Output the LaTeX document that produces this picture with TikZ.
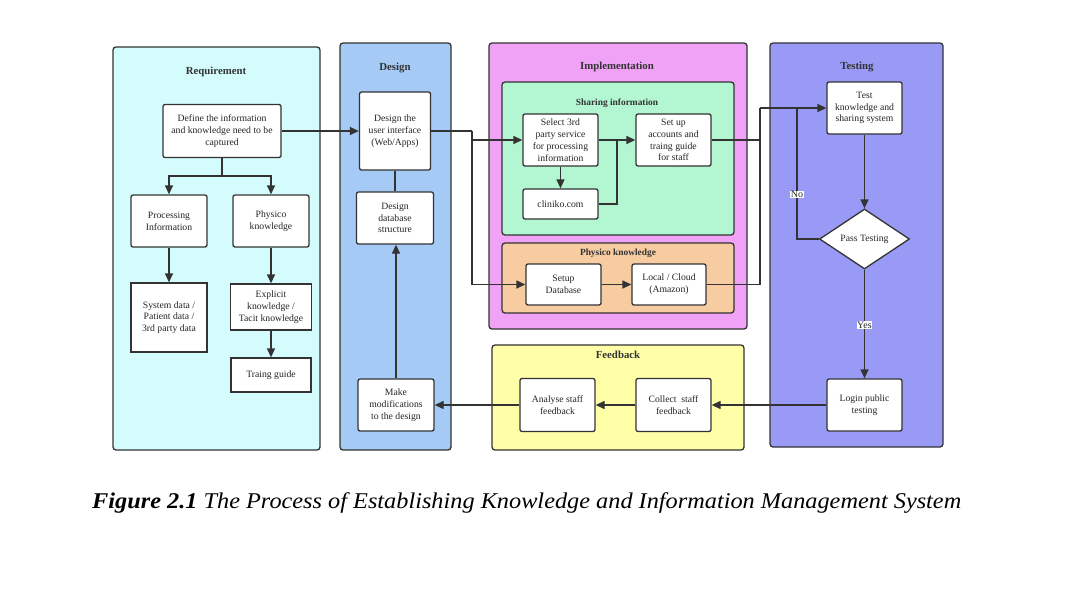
\documentclass[tikz,border=0pt]{standalone}
\usepackage{fontspec}
\setmainfont{Liberation Serif}
\usetikzlibrary{arrows.meta,shapes.geometric}
\definecolor{linec}{RGB}{51,51,51}
\definecolor{reqc}{RGB}{212,252,252}
\definecolor{desc}{RGB}{164,202,245}
\definecolor{impc}{RGB}{240,162,246}
\definecolor{shac}{RGB}{178,247,210}
\definecolor{phyc}{RGB}{246,204,160}
\definecolor{feec}{RGB}{255,255,168}
\definecolor{tesc}{RGB}{153,153,246}
\tikzset{
  lane/.style={draw=linec, line width=1.3pt, rounded corners=3pt},
  lanetitle/.style={font=\fontsize{10.8}{12}\selectfont\bfseries, text=linec},
  subtitle/.style={font=\fontsize{9.4}{11}\selectfont\bfseries, text=linec},
  box/.style={draw=linec, fill=white, line width=1.3pt, rounded corners=2pt, align=center,
    font=\fontsize{9.7}{11.8}\selectfont, inner sep=1pt, text=black!85},
  sqbox/.style={box, rounded corners=0pt},
  conn/.style={draw=linec, line width=1.3pt},
  arr/.style={conn, -{Triangle[length=9pt,width=8pt]}},
  lbl/.style={fill=white, inner sep=0.5pt, font=\fontsize{10}{11}\selectfont, text=black!85}
}
\begin{document}
\begin{tikzpicture}[x=1pt,y=-1pt]
\useasboundingbox (0,0) rectangle (1072,590);
% lanes
\draw[lane, fill=reqc] (113,47) rectangle (320,450);
\node[lanetitle] (treq) at (216,72) {Requirement};
\draw[lane, fill=desc] (340,43) rectangle (451,450);
\node[lanetitle] (tdes) at (395,68) {Design};
\draw[lane, fill=impc] (489,43) rectangle (747,329);
\node[lanetitle] (timp) at (617,67) {Implementation};
\draw[lane, fill=shac] (502,82) rectangle (734,235);
\node[subtitle] (tsha) at (617,103) {Sharing information};
\draw[lane, fill=phyc] (502,243) rectangle (734,313);
\node[subtitle] (tphy) at (618,253) {Physico knowledge};
\draw[lane, fill=feec] (492,345) rectangle (744,450);
\node[lanetitle] (tfee) at (618,355) {Feedback};
\draw[lane, fill=tesc] (770,43) rectangle (943,447);
\node[lanetitle] (ttes) at (857,67) {Testing};

% Requirement nodes
\node[box, minimum width=118pt, minimum height=53pt] (def) at (222,131) {Define the information\\and knowledge need to be\\captured};
\node[box, minimum width=76pt, minimum height=52pt] (proc) at (169,221) {Processing\\Information};
\node[box, minimum width=76pt, minimum height=52pt] (phk) at (271,221) {Physico\\knowledge};
\node[sqbox, minimum width=76pt, minimum height=69pt] (sysd) at (169,317.5) {System data /\\Patient data /\\3rd party data};
\node[sqbox, minimum width=81pt, minimum height=46pt] (expl) at (271,307) {Explicit\\knowledge /\\Tacit knowledge};
\node[sqbox, minimum width=80pt, minimum height=34pt] (trg) at (271,375) {Traing guide};

% Design nodes
\node[box, minimum width=71pt, minimum height=78pt] (ui) at (395,131) {Design the\\user interface\\(Web/Apps)};
\node[box, minimum width=77pt, minimum height=52pt] (dbs) at (395,218) {Design\\database\\structure};
\node[box, minimum width=76pt, minimum height=52pt] (mod) at (396,405) {Make\\modifications\\to the design};

% Implementation nodes
\node[box, minimum width=75pt, minimum height=52pt] (sel) at (560.5,140) {Select 3rd\\party service\\for processing\\information};
\node[box, minimum width=75pt, minimum height=52pt] (acc) at (673.5,140) {Set up\\accounts and\\traing guide\\for staff};
\node[box, minimum width=75pt, minimum height=30pt] (cli) at (560.5,204) {cliniko.com};
\node[box, minimum width=75pt, minimum height=41pt] (sdb) at (563.5,284.5) {Setup\\Database};
\node[box, minimum width=74pt, minimum height=41pt] (loc) at (669,284.5) {Local / Cloud\\(Amazon)};

% Feedback nodes
\node[box, minimum width=75pt, minimum height=53pt] (col) at (673.5,405) {Collect\ \ staff\\feedback};
\node[box, minimum width=75pt, minimum height=53pt] (ana) at (557.5,405) {Analyse staff\\feedback};

% Testing nodes
\node[box, minimum width=75pt, minimum height=52pt] (tst) at (864.5,108) {Test\\knowledge and\\sharing system};
\node[draw=linec, fill=white, line width=1.3pt, shape=diamond, aspect=1.5, minimum width=90pt, minimum height=60pt, inner sep=0pt, font=\fontsize{9.7}{11.8}\selectfont, text=black!85] (pass) at (864.5,239) {Pass Testing};
\node[box, minimum width=75pt, minimum height=52pt] (log) at (864.5,405) {Login public\\testing};

% junctions
\coordinate (jr) at (222,176);
\coordinate (ja) at (472,131);
\coordinate (jb) at (617,140);
\coordinate (jc) at (760,108);
\coordinate (jd) at (797,108);

% connectors
\draw[conn] (def.south) -- (jr);
\draw[arr] (jr) -| (proc.north);
\draw[arr] (jr) -| (phk.north);
\draw[arr] (proc.south) -- (sysd.north);
\draw[arr] (phk.south) -- (expl.north);
\draw[arr] (expl.south) -- (trg.north);
\draw[arr] (def.east) -- (ui.west);
\draw[conn] (ui.south) -- (dbs.north);
\draw[conn] (ui.east) -- (ja);
\draw[arr] (ja) |- (sel.west);
\draw[arr] (ja) |- (sdb.west);
\draw[arr] (sel.east) -- (acc.west);
\draw[arr] (sel.south) -- (cli.north);
\draw[conn] (cli.east) -| (jb);
\draw[arr] (sdb.east) -- (loc.west);
\draw[conn] (acc.east) -| (jc);
\draw[conn] (loc.east) -| (jc);
\draw[arr] (jc) -- (tst.west);
\draw[arr] (tst.south) -- (pass.north);
\draw[conn] (pass.west) -| (jd) node[lbl, pos=0.67] {No};
\draw[arr] (pass.south) -- (log.north) node[lbl, pos=0.51] {Yes};
\draw[arr] (log.west) -- (col.east);
\draw[arr] (col.west) -- (ana.east);
\draw[arr] (ana.west) -- (mod.east);
\draw[arr] (mod.north) -- (mod.north |- dbs.south);

% caption
\node[anchor=west, inner sep=0pt] (cap) at (92,503) {\scalebox{1.08}[1]{\fontsize{22.5}{26}\selectfont\textbf{\textit{Figure 2.1}} \textit{The Process of Establishing Knowledge and Information Management System}}};
\end{tikzpicture}
\end{document}
